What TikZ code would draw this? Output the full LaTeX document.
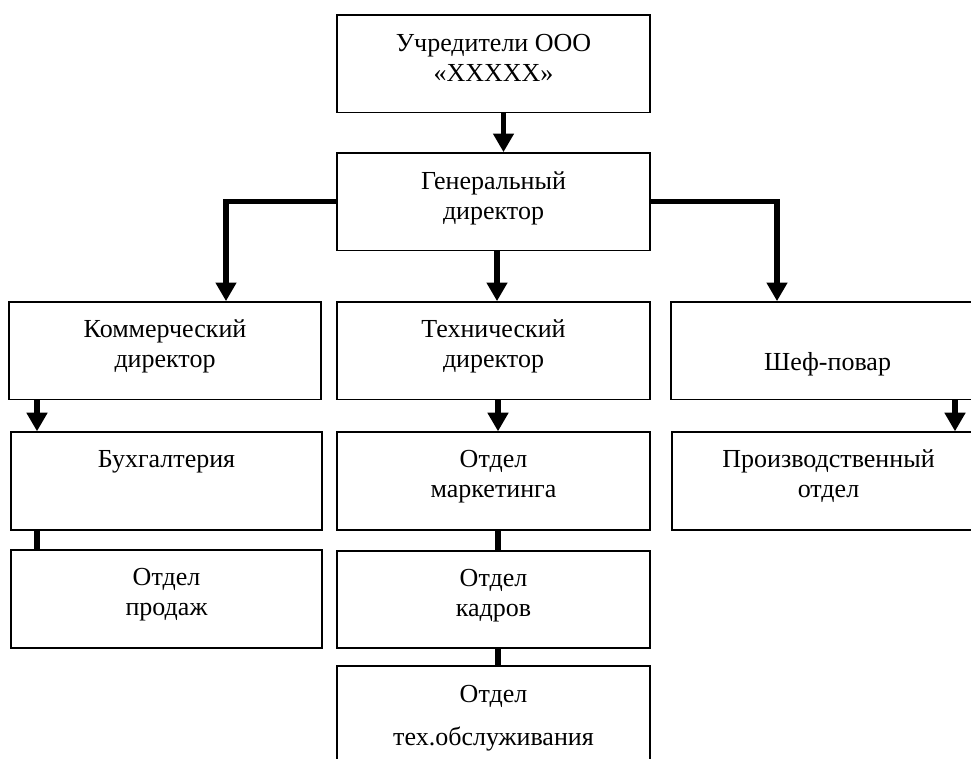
\documentclass[tikz,border=0pt]{standalone}
\usepackage{fontspec}
\setmainfont{Liberation Serif}
\usetikzlibrary{arrows.meta,calc}
\tikzset{
  box/.style={draw, line width=1pt, rectangle, inner sep=0pt, minimum width=234.75pt, minimum height=73pt},
  lbl/.style={inner sep=0pt, align=center, anchor=north, font=\fontsize{19.5}{22.5}\selectfont},
  conn/.style={line width=3.8pt},
  arr/.style={conn, -{Triangle[width=15pt,length=14pt]}},
}
\begin{document}
\begin{tikzpicture}[x=0.75pt,y=-0.75pt]
\path[use as bounding box, clip] (0,0) rectangle (971,758);
% boxes
\node[box] (top)   at (493.5,63.5) {};
\node[box] (gd)    at (493.5,201.5) {};
\node[box, minimum width=234pt] (com) at (165,350.5) {};
\node[box] (tech)  at (493.5,350.5) {};
\node[box] (chef)  at (827.5,350.5) {};
\node[box, minimum width=233.25pt, minimum height=73.5pt] (buh) at (166.5,481) {};
\node[box, minimum height=73.5pt] (mark) at (493.5,481) {};
\node[box, minimum height=73.5pt] (prod) at (828.5,481) {};
\node[box, minimum width=233.25pt, minimum height=73.5pt] (sales) at (166.5,599) {};
\node[box, minimum height=72.75pt] (kadr) at (493.5,599.5) {};
\node[box, minimum height=73.5pt] (tech2) at (493.5,715) {};
% texts
\node[lbl] at ($(top.north)+(0,16)$) {\strut Учредители ООО\\«ХХХХХ»};
\node[lbl] at ($(gd.north)+(0,16)$) {\strut Генеральный\\директор};
\node[lbl] at ($(com.north)+(0,15)$) {\strut Коммерческий\\директор};
\node[lbl] at ($(tech.north)+(0,15)$) {\strut Технический\\директор};
\node[lbl] at ($(chef.north)+(0,48)$) {\strut Шеф-повар};
\node[lbl] at ($(buh.north)+(0,15)$) {\strut Бухгалтерия};
\node[lbl] at ($(mark.north)+(0,15)$) {\strut Отдел\\маркетинга};
\node[lbl] at ($(prod.north)+(0,15)$) {\strut Производственный\\отдел};
\node[lbl] at ($(sales.north)+(0,15)$) {\strut Отдел\\продаж};
\node[lbl] at ($(kadr.north)+(0,15)$) {\strut Отдел\\кадров};
\node[lbl] at ($(tech2.north)+(0,16)$) {\strut Отдел\\[9.5pt]тех.обслуживания};
% connectors
\draw[arr] ($(top.south)+(10,0)$) -- ($(gd.north)+(10,0)$);
\draw[arr] (gd.west) -| ($(com.north)+(61,0)$);
\draw[arr] ($(gd.south)+(3.5,0)$) -- ($(tech.north)+(3.5,0)$);
\draw[arr] (gd.east) -| ($(chef.north)+(-50.5,0)$);
\draw[arr] ($(com.south)+(-128,0)$) -- ($(buh.north)+(-129.5,0)$);
\draw[conn] ($(buh.south)+(-129.5,0)$) -- ($(sales.north)+(-129.5,0)$);
\draw[arr] ($(tech.south)+(4.5,0)$) -- ($(mark.north)+(4.5,0)$);
\draw[conn] ($(mark.south)+(4.5,0)$) -- ($(kadr.north)+(4.5,0)$);
\draw[conn] ($(kadr.south)+(4.5,0)$) -- ($(tech2.north)+(4.5,0)$);
\draw[arr] ($(chef.south)+(127.5,0)$) -- ($(prod.north)+(126.5,0)$);
\end{tikzpicture}
\end{document}
